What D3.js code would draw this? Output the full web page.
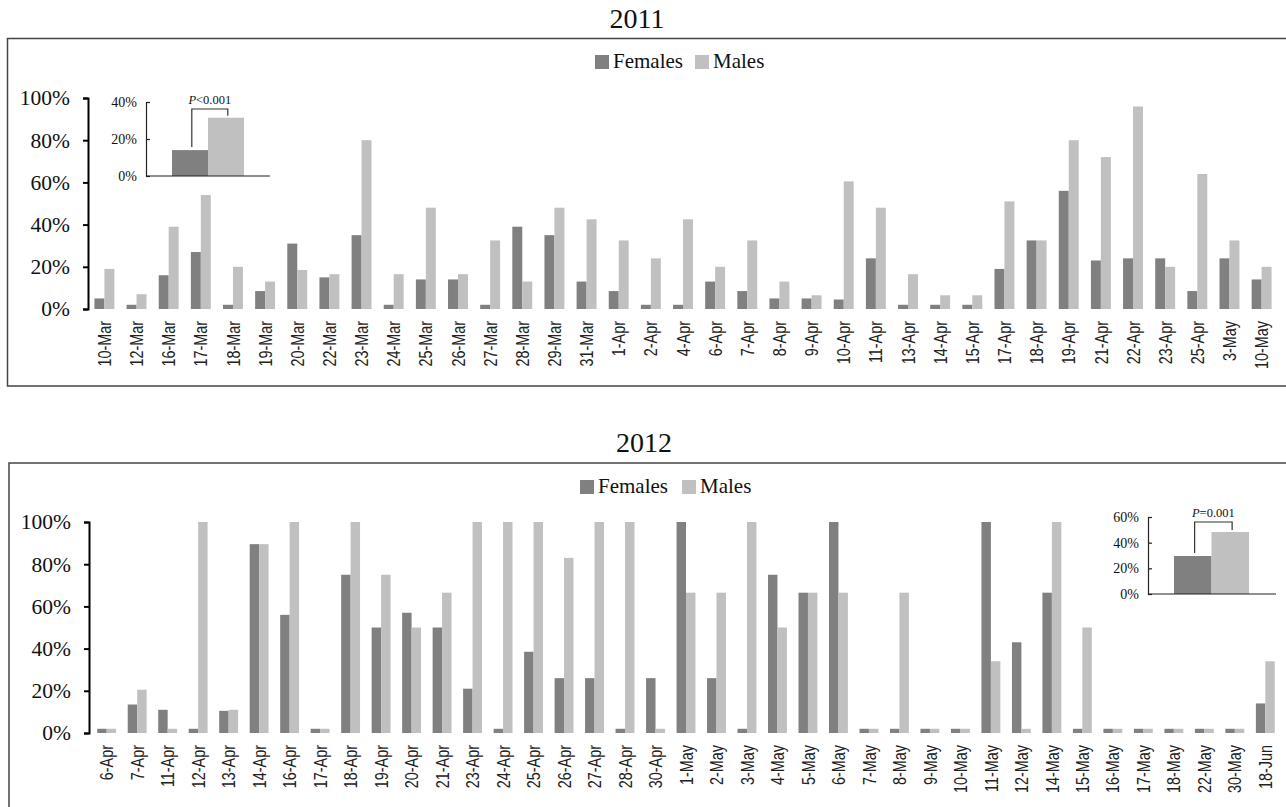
<!DOCTYPE html>
<html>
<head>
<meta charset="utf-8">
<script src="https://cdn.jsdelivr.net/npm/d3@7"></script>
<style>
  html, body { margin: 0; padding: 0; background: #fff; }
  svg { display: block; }
</style>
</head>
<body>
<svg id="chart" width="1286" height="807"></svg>
<script>
// ---------- DATA ----------
const dates2011 = ["10-Mar","12-Mar","16-Mar","17-Mar","18-Mar","19-Mar","20-Mar","22-Mar","23-Mar","24-Mar","25-Mar","26-Mar","27-Mar","28-Mar","29-Mar","31-Mar","1-Apr","2-Apr","4-Apr","6-Apr","7-Apr","8-Apr","9-Apr","10-Apr","11-Apr","13-Apr","14-Apr","15-Apr","17-Apr","18-Apr","19-Apr","21-Apr","22-Apr","23-Apr","25-Apr","3-May","10-May"];
const females2011 = [5,2,16,27,2,8.5,31,15,35,2,14,14,2,39,35,13,8.5,2,2,13,8.5,5,5,4.5,24,2,2,2,19,32.5,56,23,24,24,8.5,24,14];
const males2011   = [19,7,39,54,20,13,18.5,16.5,80,16.5,48,16.5,32.5,13,48,42.5,32.5,24,42.5,20,32.5,13,6.5,60.5,48,16.5,6.5,6.5,51,32.5,80,72,96,20,64,32.5,20];

const dates2012 = ["6-Apr","7-Apr","11-Apr","12-Apr","13-Apr","14-Apr","16-Apr","17-Apr","18-Apr","19-Apr","20-Apr","21-Apr","23-Apr","24-Apr","25-Apr","26-Apr","27-Apr","28-Apr","30-Apr","1-May","2-May","3-May","4-May","5-May","6-May","7-May","8-May","9-May","10-May","11-May","12-May","14-May","15-May","16-May","17-May","18-May","22-May","30-May","18-Jun"];
const females2012 = [2,13.5,11,2,10.5,89.5,56,2,75,50,57,50,21,2,38.5,26,26,2,26,100,26,2,75,66.5,100,2,2,2,2,100,43,66.5,2,2,2,2,2,2,14];
const males2012   = [2,20.5,2,100,11,89.5,100,2,100,75,50,66.5,100,100,100,83,100,100,2,66.5,66.5,100,50,66.5,66.5,2,66.5,2,2,34,2,100,50,2,2,2,2,2,34];

const seriesNames = ["Females","Males"];
const inset2011 = [14, 31.5];   // Females, Males overall
const inset2012 = [29.6, 48.3];
const mainTicks = [0,20,40,60,80,100];
const inset2011Ticks = [0,20,40];
const inset2012Ticks = [0,20,40,60];
const pLabel2011 = "<0.001";
const pLabel2012 = "=0.001";

// ---------- STYLE ----------
const colors = ["#808080", "#c0c0c0"];
const serif = "'Liberation Serif','Times New Roman',serif";
const sans = "'Liberation Sans',Arial,sans-serif";

const svg = d3.select("#chart");

function panel(cfg) {
  const g = svg.append("g");
  // frame
  g.append("rect")
    .attr("x", cfg.frame[0]).attr("y", cfg.frame[1])
    .attr("width", cfg.frame[2]).attr("height", cfg.frame[3])
    .attr("fill", "none").attr("stroke", "#444").attr("stroke-width", 1.5);
  // title
  g.append("text").attr("x", cfg.titleX).attr("y", cfg.titleY)
    .attr("text-anchor", "middle").attr("font-family", serif)
    .attr("font-size", 28).attr("fill", "#111").text(cfg.title);
  // legend
  const lg = g.append("g");
  seriesNames.forEach((n, i) => {
    lg.append("rect").attr("x", cfg.legend[i][0]).attr("y", cfg.legendY - 13)
      .attr("width", 14).attr("height", 14).attr("fill", colors[i]);
    lg.append("text").attr("x", cfg.legend[i][0] + 18).attr("y", cfg.legendY)
      .attr("font-family", serif).attr("font-size", 21).attr("fill", "#111").text(n);
  });

  const x0 = d3.scaleBand().domain(cfg.dates).range(cfg.xRange)
    .paddingInner(0.38).paddingOuter(cfg.outer);
  const x1 = d3.scaleBand().domain(seriesNames).range([0, x0.bandwidth()]);
  const y = d3.scaleLinear().domain([0, 100]).range([cfg.y0, cfg.y100]);

  const rows = cfg.dates.map((d, i) => ({ date: d, vals: [cfg.f[i], cfg.m[i]] }));
  const bars = g.append("g");
  rows.forEach(r => {
    r.vals.forEach((v, k) => {
      bars.append("rect")
        .attr("x", x0(r.date) + x1(seriesNames[k]))
        .attr("width", x1.bandwidth())
        .attr("y", y(v))
        .attr("height", y(0) - y(v))
        .attr("fill", colors[k]);
    });
  });

  // y axis
  const ya = g.append("g").attr("transform", `translate(${cfg.xRange[0]},0)`)
    .call(d3.axisLeft(y).tickValues(mainTicks).tickSize(5).tickSizeOuter(5).tickPadding(13).tickFormat(d => d + "%"));
  ya.select(".domain").attr("stroke", "#000").attr("stroke-width", 2);
  ya.selectAll(".tick line").attr("stroke", "#000").attr("stroke-width", 2);
  ya.selectAll(".tick text").attr("font-family", serif).attr("font-size", 21.5).attr("fill", "#111");

  // x labels
  const xl = g.append("g");
  cfg.dates.forEach(d => {
    const cx = x0(d) + x0.bandwidth() / 2;
    xl.append("text")
      .attr("transform", `translate(${cx},${cfg.y0 + 12}) rotate(-90) scale(0.8,1)`)
      .attr("text-anchor", "end").attr("dominant-baseline", "central")
      .attr("font-family", sans).attr("font-size", 18).attr("fill", "#222")
      .text(d);
  });

  // inset
  const ins = cfg.inset;
  const iy = d3.scaleLinear().domain([0, ins.max]).range([ins.y0, ins.yTop]);
  const ix = d3.scaleBand().domain(seriesNames).range([ins.barX0, ins.barX1]);
  const ig = g.append("g");
  ins.vals.forEach((v, k) => {
    ig.append("rect").attr("x", ix(seriesNames[k])).attr("width", ix.bandwidth())
      .attr("y", iy(v)).attr("height", iy(0) - iy(v)).attr("fill", colors[k]);
  });
  const iya = ig.append("g").attr("transform", `translate(${ins.axisX},0)`)
    .call(d3.axisLeft(iy).tickValues(ins.ticks).tickSizeInner(-4).tickSizeOuter(0).tickPadding(9).tickFormat(d => d + "%"));
  iya.select(".domain").attr("stroke", "#222").attr("stroke-width", 1.2);
  iya.selectAll(".tick line").attr("stroke", "#222").attr("stroke-width", 1.2);
  iya.selectAll(".tick text").attr("font-family", serif).attr("font-size", 14).attr("fill", "#111");
  ig.append("line").attr("x1", ins.axisX).attr("x2", ins.axisX1)
    .attr("y1", iy(0)).attr("y2", iy(0)).attr("stroke", "#222").attr("stroke-width", 1.2);
  // bracket
  const bxL = ix(seriesNames[0]) + ix.bandwidth() * 0.55;
  const bxR = ix(seriesNames[1]) + ix.bandwidth() * 0.55;
  const bTop = iy(ins.max) + ins.bracketOff;
  ig.append("path")
    .attr("d", `M${bxL},${iy(ins.vals[0]) - 3} V${bTop} H${bxR} V${iy(ins.vals[1]) - 2}`)
    .attr("fill", "none").attr("stroke", "#333").attr("stroke-width", 1.2);
  const pt = ig.append("text").attr("x", (bxL + bxR) / 2).attr("y", bTop - 5)
    .attr("text-anchor", "middle").attr("font-family", serif).attr("font-size", 12.5).attr("fill", "#111");
  pt.append("tspan").attr("font-style", "italic").text("P");
  pt.append("tspan").text(ins.p);
}

panel({
  title: "2011", titleX: 637, titleY: 28,
  frame: [7.5, 38.5, 1300, 347.5],
  legend: [[595, 0], [695, 0]], legendY: 68,
  dates: dates2011, f: females2011, m: males2011,
  xRange: [88, 1278], outer: 0.2, y0: 309, y100: 98,
  inset: { max: 40, y0: 176, yTop: 102, axisX: 146, axisX1: 270, barX0: 172, barX1: 244,
           vals: inset2011, ticks: inset2011Ticks, p: pLabel2011, bracketOff: 7 }
});

panel({
  title: "2012", titleX: 644, titleY: 452,
  frame: [9, 463, 1300, 400],
  legend: [[580, 0], [682, 0]], legendY: 493,
  dates: dates2012, f: females2012, m: males2012,
  xRange: [89, 1283], outer: 0.27, y0: 733, y100: 522,
  inset: { max: 60, y0: 594, yTop: 517, axisX: 1148, axisX1: 1276, barX0: 1174, barX1: 1249,
           vals: inset2012, ticks: inset2012Ticks, p: pLabel2012, bracketOff: 5 }
});
</script>
</body>
</html>
